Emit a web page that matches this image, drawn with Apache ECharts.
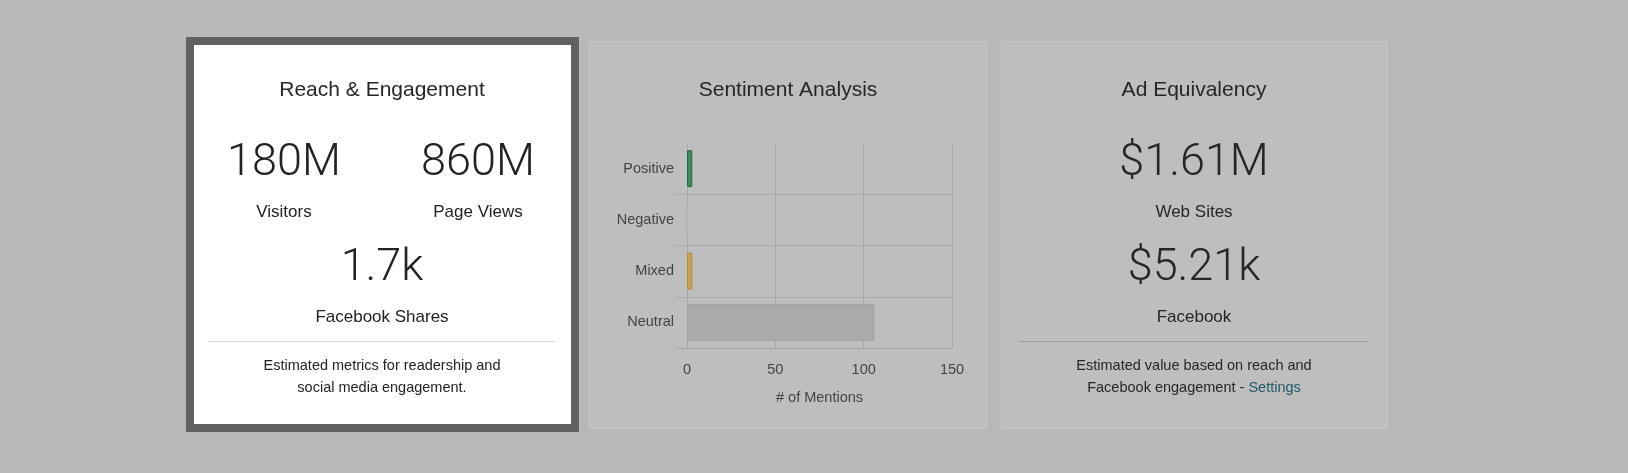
<!DOCTYPE html>
<html><head><meta charset="utf-8">
<script src="https://cdn.jsdelivr.net/npm/echarts@6/dist/echarts.min.js"></script>
<style>html,body{margin:0;padding:0;background:#b8b8b8;}#c{width:1628px;height:473px;}</style>
</head><body><div id="c"></div>
<script>
const categories = ['Positive','Negative','Mixed','Neutral'];
const mentions = [3, 0, 3, 106];
const barColors = ['#3c8a5b','#b8b8b8','#c9a04e','#aaaaaa'];
const barBorders = ['#2c6a45','#b8b8b8','#b48c3e','#a2a2a2'];
const xTicks = [0, 50, 100, 150];

const chart = echarts.init(document.getElementById('c'));
const F = '"Liberation Sans", Arial, sans-serif';
const FN = 'Roboto, sans-serif';
function txt(x,y,t,size,color,weight,fam){
  return {type:'text',x:x,y:y,style:{text:t,font:(weight||400)+' '+size+'px '+(fam||F),fill:color,align:'center',verticalAlign:'middle'}};
}
const g = [];
g.push({type:'rect',shape:{x:186,y:37,width:393,height:395},style:{fill:'#616161'}});
g.push({type:'rect',shape:{x:194,y:45,width:377,height:379},style:{fill:'#ffffff'}});
g.push({type:'rect',shape:{x:589.5,y:41.5,width:397,height:387},style:{fill:'#bebebe',stroke:'#c6c6c6',lineWidth:1}});
g.push({type:'rect',shape:{x:1001.5,y:41.5,width:386,height:387},style:{fill:'#bebebe',stroke:'#c6c6c6',lineWidth:1}});
// card1
g.push(txt(382,90,'Reach & Engagement',21,'#262626'));
g.push(txt(284,164,'180M',45,'#222',300,FN));
g.push(txt(478,164,'860M',45,'#222',300,FN));
g.push(txt(284,212,'Visitors',17,'#222'));
g.push(txt(478,212,'Page Views',17,'#222'));
g.push(txt(382,269,'1.7k',45,'#222',300,FN));
g.push(txt(382,317,'Facebook Shares',17,'#222'));
g.push({type:'line',shape:{x1:208,y1:341.5,x2:556,y2:341.5},style:{stroke:'#dcdcdc',lineWidth:1}});
g.push(txt(382,366,'Estimated metrics for readership and',14.5,'#222'));
g.push(txt(382,388,'social media engagement.',14.5,'#222'));
// card2
g.push(txt(788,90,'Sentiment Analysis',21,'#262626'));
// card3
g.push(txt(1194,90,'Ad Equivalency',21,'#262626'));
g.push(txt(1194,164,'$1.61M',45,'#262626',300,FN));
g.push(txt(1194,212,'Web Sites',17,'#262626'));
g.push(txt(1194,269,'$5.21k',45,'#262626',300,FN));
g.push(txt(1194,317,'Facebook',17,'#262626'));
g.push({type:'line',shape:{x1:1019,y1:341.5,x2:1368,y2:341.5},style:{stroke:'#9e9e9e',lineWidth:1}});
g.push(txt(1194,366,'Estimated value based on reach and',14.5,'#262626'));
g.push({type:'text',x:1194,y:388,style:{rich:{a:{fill:'#262626',font:'400 14.5px '+F},b:{fill:'#1f5868',font:'400 14.5px '+F}},text:'{a|Facebook engagement - }{b|Settings}',align:'center',verticalAlign:'middle'}});
// hide top category boundary line
g.push({type:'rect',z:100,shape:{x:670,y:142,width:290,height:2},style:{fill:'#bebebe'}});

chart.setOption({
  animation:false,
  graphic:{elements:g},
  grid:{left:687,top:143,width:265,height:205,containLabel:false},
  xAxis:{type:'value',min:0,max:150,interval:50,
    axisLine:{show:false},axisTick:{show:false},
    axisLabel:{color:'#444',fontSize:14.5,fontFamily:F,margin:14,formatter:v=>xTicks.includes(v)?String(v):''},
    splitLine:{lineStyle:{color:'#a9a9a9'}},
    name:'# of Mentions',nameLocation:'middle',nameGap:42,nameTextStyle:{color:'#444',fontSize:14.5,fontFamily:F}},
  yAxis:{type:'category',data:categories,inverse:true,
    axisLine:{show:false},axisTick:{show:true,length:12,lineStyle:{color:'#aaaaaa'}},
    axisLabel:{color:'#444',fontSize:14.5,fontFamily:F,margin:13},
    splitLine:{show:true,lineStyle:{color:'#aaaaaa'}}},
  series:[{type:'bar',barWidth:'72%',
    data:mentions.map((v,i)=>({value:v,itemStyle:{color:barColors[i],borderColor:barBorders[i],borderWidth:1}}))}]
});
</script></body></html>
